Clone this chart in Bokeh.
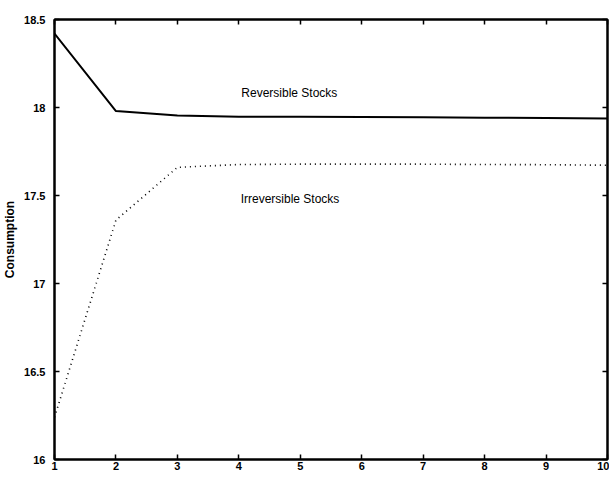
from bokeh.plotting import figure
from bokeh.models import LinearAxis, Range1d, FixedTicker, Label
from bokeh.embed import file_html
from bokeh.resources import INLINE

time = [1, 2, 3, 4, 5, 6, 7, 8, 9, 10]
reversible = [18.42, 17.98, 17.955, 17.948, 17.947, 17.946, 17.944, 17.942, 17.940, 17.937]
irreversible = [16.24, 17.36, 17.66, 17.676, 17.678, 17.678, 17.678, 17.676, 17.675, 17.672]
x_ticks = [1, 2, 3, 4, 5, 6, 7, 8, 9, 10]
y_ticks = [16, 16.5, 17, 17.5, 18, 18.5]
label_rev = "Reversible Stocks"
label_irr = "Irreversible Stocks"
x_title = "Time"
y_title = "Consumption"

FONT = "Liberation Sans"

p = figure(width=609, height=487, output_backend="svg", toolbar_location=None,
           x_range=Range1d(1, 10), y_range=Range1d(16, 18.5),
           min_border_left=54, min_border_top=19, min_border_bottom=28, min_border_right=2,
           y_axis_label=y_title)
p.grid.visible = False
p.background_fill_color = "white"
p.border_fill_color = "white"
p.outline_line_color = "black"
p.outline_line_width = 2

for ax in p.xaxis:
    ax.ticker = FixedTicker(ticks=x_ticks)
for ax in p.yaxis:
    ax.ticker = FixedTicker(ticks=y_ticks)
    ax.major_label_overrides = {16: "16", 16.5: "16.5", 17: "17", 17.5: "17.5", 18: "18", 18.5: "18.5"}

for ax in list(p.xaxis) + list(p.yaxis):
    ax.major_tick_in = 5
    ax.major_tick_out = 0
    ax.minor_tick_line_color = None
    ax.axis_line_width = 2
    ax.major_tick_line_width = 1.5
    ax.major_label_text_font = FONT
    ax.major_label_text_font_style = "bold"
    ax.major_label_text_font_size = "11px"
    ax.major_label_text_color = "black"
    ax.axis_label_text_font = FONT
    ax.axis_label_text_font_style = "bold"
    ax.axis_label_text_font_size = "12px"
    ax.axis_label_text_color = "black"

p.xaxis.major_label_standoff = 2
p.yaxis.major_label_standoff = 9
p.yaxis.axis_label_standoff = 4

top = LinearAxis(ticker=FixedTicker(ticks=x_ticks), major_tick_in=5, major_tick_out=0,
                 major_label_text_font_size="1px", major_label_text_color=None,
                 major_label_standoff=0,
                 minor_tick_line_color=None, axis_line_width=2, major_tick_line_width=1.5)
p.add_layout(top, "above")
right = LinearAxis(ticker=FixedTicker(ticks=y_ticks), major_tick_in=5, major_tick_out=0,
                   major_label_text_font_size="1px", major_label_text_color=None,
                   major_label_standoff=0,
                   minor_tick_line_color=None, axis_line_width=2, major_tick_line_width=1.5)
p.add_layout(right, "right")

p.line(time, reversible, line_color="black", line_width=2)
p.line(time, irreversible, line_color="black", line_width=1.6, line_dash="1 4")

p.add_layout(Label(x=4.04, y=18.085, text=label_rev, text_font=FONT, text_font_size="12px",
                   text_baseline="middle", text_align="left", text_color="black"))
p.add_layout(Label(x=4.03, y=17.48, text=label_irr, text_font=FONT, text_font_size="12px",
                   text_baseline="middle", text_align="left", text_color="black"))
p.add_layout(Label(x=5.5, y=16, y_offset=-14, text=x_title, text_font=FONT, text_font_size="12px",
                   text_font_style="bold", text_baseline="top", text_align="center", text_color="black"))

open("out.html", "w").write(file_html(p, INLINE))
